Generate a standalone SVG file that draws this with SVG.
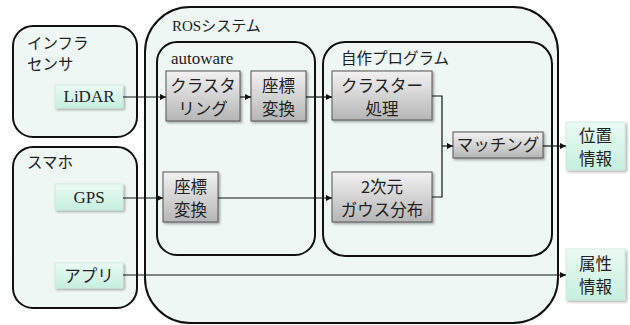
<svg xmlns="http://www.w3.org/2000/svg" width="630" height="325" viewBox="0 0 630 325">
<defs>
<linearGradient id="gray" x1="0" y1="0" x2="0" y2="1">
<stop offset="0" stop-color="#f2f2f2"/>
<stop offset="1" stop-color="#b5b5b5"/>
</linearGradient>
<linearGradient id="mint" x1="0" y1="0" x2="0" y2="1">
<stop offset="0" stop-color="#ebfaf4"/>
<stop offset="1" stop-color="#c6efdf"/>
</linearGradient>
<filter id="sh" x="-20%" y="-20%" width="150%" height="150%">
<feDropShadow dx="1.5" dy="1.5" stdDeviation="1.2" flood-color="#000" flood-opacity="0.35"/>
</filter>
<marker id="ah" viewBox="0 0 6 6" refX="6" refY="3" markerWidth="6" markerHeight="6" markerUnits="userSpaceOnUse" orient="auto">
<path d="M0,0 L6,3 L0,6 z" fill="#111"/>
</marker>
</defs>
<style>
.cont{fill:#eef7f4;stroke:#111;stroke-width:2}
.gbox{fill:url(#gray);stroke:#555;stroke-width:1;filter:url(#sh)}
.mbox{fill:url(#mint);stroke:#cde8de;stroke-width:0.8;filter:url(#sh)}
.t{font-family:"Noto Sans CJK JP","Noto Sans",sans-serif;font-size:16.5px;fill:#222}
.h{font-family:"Noto Sans CJK JP","Noto Sans",sans-serif;font-size:15.5px;fill:#222}
.s{font-family:"Liberation Serif","Noto Sans CJK JP",serif;font-size:17px;fill:#222}
.r{font-family:"Liberation Serif","Noto Sans CJK JP",serif;font-size:15px;fill:#222}
.c{text-anchor:middle}
.ln{fill:none;stroke:#111;stroke-width:1.2}
</style>
<rect width="630" height="325" fill="#ffffff"/>

<g id="infra">
<rect class="cont" x="13" y="26" width="124" height="111" rx="20"/>
<text class="h" x="27" y="49">インフラ</text>
<text class="h" x="27" y="70">センサ</text>
</g>
<g id="sumaho">
<rect class="cont" x="13" y="147" width="124" height="161" rx="20"/>
<text class="h" x="27" y="168">スマホ</text>
</g>
<g id="ros">
<rect class="cont" x="145" y="7" width="413" height="316" rx="45"/>
<text class="r" x="172" y="31">ROSシステム</text>
</g>
<g id="autoware">
<rect class="cont" x="157" y="42" width="158" height="213" rx="20"/>
<text class="s" x="171" y="64">autoware</text>
</g>
<g id="jisaku">
<rect class="cont" x="323" y="42" width="229" height="214" rx="22"/>
<text class="h" x="341" y="64">自作プログラム</text>
</g>

<g id="lidar">
<rect class="mbox" x="55" y="85" width="68" height="23"/>
<text class="s c" x="89" y="102">LiDAR</text>
</g>
<g id="gps">
<rect class="mbox" x="55" y="184" width="68" height="26"/>
<text class="s c" x="89" y="203">GPS</text>
</g>
<g id="app">
<rect class="mbox" x="55" y="263" width="68" height="25"/>
<text class="t c" x="89" y="282">アプリ</text>
</g>
<g id="clustering">
<rect class="gbox" x="166" y="71" width="74" height="50"/>
<text class="t c" x="203" y="92">クラスタ</text>
<text class="t c" x="203" y="115">リング</text>
</g>
<g id="zahyo1">
<rect class="gbox" x="251" y="71" width="55" height="50"/>
<text class="t c" x="278.5" y="92">座標</text>
<text class="t c" x="278.5" y="115">変換</text>
</g>
<g id="zahyo2">
<rect class="gbox" x="163" y="172" width="55" height="50"/>
<text class="t c" x="190.5" y="193">座標</text>
<text class="t c" x="190.5" y="216">変換</text>
</g>
<g id="cluster-shori">
<rect class="gbox" x="332" y="71" width="100" height="49"/>
<text class="t c" x="382" y="92">クラスター</text>
<text class="t c" x="382" y="115">処理</text>
</g>
<g id="gauss">
<rect class="gbox" x="332" y="172" width="100" height="50"/>
<text class="t c" x="382" y="193">2次元</text>
<text class="t c" x="382" y="216">ガウス分布</text>
</g>
<g id="matching">
<rect class="gbox" x="453" y="132" width="90" height="26"/>
<text class="t c" x="498" y="151">マッチング</text>
</g>
<g id="ichi">
<rect class="mbox" x="566" y="122" width="59" height="48"/>
<text class="t c" x="595.5" y="142">位置</text>
<text class="t c" x="595.5" y="165">情報</text>
</g>
<g id="zokusei">
<rect class="mbox" x="566" y="249" width="59" height="51"/>
<text class="t c" x="595.5" y="270">属性</text>
<text class="t c" x="595.5" y="293">情報</text>
</g>

<g id="connectors">
<line class="ln" x1="123" y1="97" x2="166" y2="97" marker-end="url(#ah)"/>
<line class="ln" x1="240" y1="97" x2="251" y2="97" marker-end="url(#ah)"/>
<line class="ln" x1="306" y1="97" x2="332" y2="97" marker-end="url(#ah)"/>
<line class="ln" x1="123" y1="198" x2="163" y2="198" marker-end="url(#ah)"/>
<line class="ln" x1="218" y1="198" x2="332" y2="198" marker-end="url(#ah)"/>
<polyline class="ln" points="432,96 442,96 442,197 432,197"/>
<line class="ln" x1="442" y1="146" x2="453" y2="146" marker-end="url(#ah)"/>
<line class="ln" x1="543" y1="146" x2="566" y2="146" marker-end="url(#ah)"/>
<line class="ln" x1="123" y1="275" x2="566" y2="275" marker-end="url(#ah)"/>
</g>
</svg>
